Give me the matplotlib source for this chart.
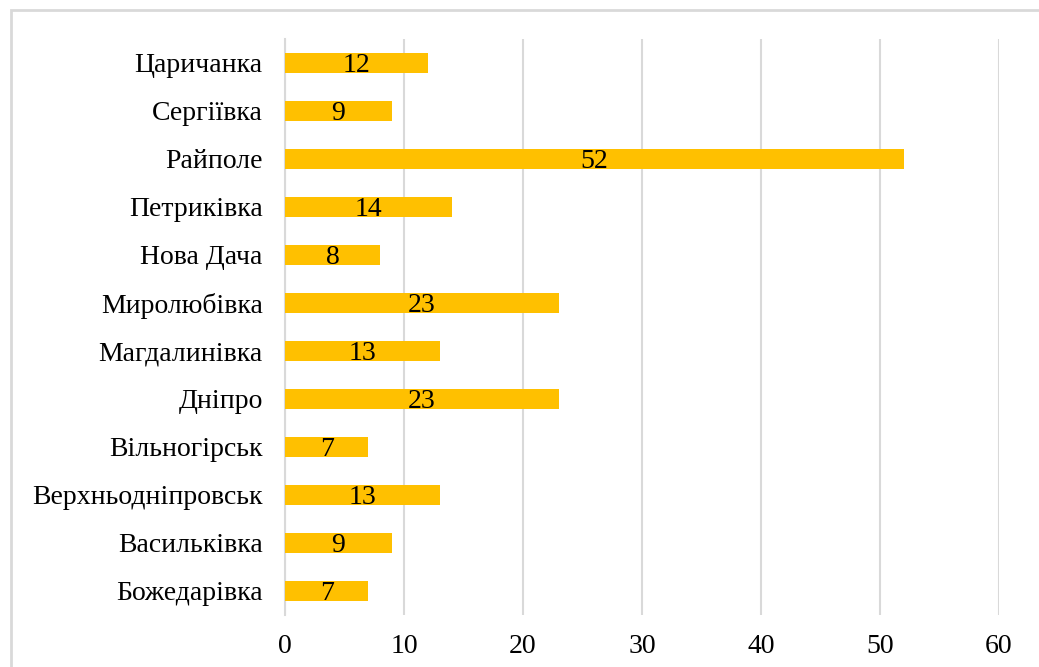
import matplotlib.pyplot as plt
from matplotlib.patches import Rectangle

# Data (bottom to top as drawn)
places = ['Божедарівка', 'Васильківка', 'Верхньодніпровськ', 'Вільногірськ',
          'Дніпро', 'Магдалинівка', 'Миролюбівка', 'Нова Дача',
          'Петриківка', 'Райполе', 'Сергіївка', 'Царичанка']
counts = [7, 9, 13, 7, 23, 13, 23, 8, 14, 52, 9, 12]
x_ticks = [0, 10, 20, 30, 40, 50, 60]

plt.rcParams['font.family'] = ['Liberation Serif', 'DejaVu Serif']

W, H = 1039, 667
fig = plt.figure(figsize=(W / 100, H / 100), dpi=100)
ax = fig.add_axes([285 / W, 1 - 615 / H, (999 - 285) / W, (615 - 39) / H])

grid_c = '#D9D9D9'
fs = 20
bars = ax.barh(range(len(places)), counts, height=0.4, color='#FFC000', zorder=3)
for b, v in zip(bars, counts):
    ax.text(b.get_width() / 2, b.get_y() + b.get_height() / 2 - 0.05, str(v),
            ha='center', va='center', fontsize=fs, color='black', zorder=4)

ax.set_xlim(0, 60)
ax.set_ylim(-0.5, len(places) - 0.5)
ax.set_xticks(x_ticks)
ax.set_yticks(range(len(places)))
ax.set_yticklabels(places)
ax.tick_params(axis='both', length=0, labelsize=fs, colors='black')
ax.tick_params(axis='x', pad=14)
ax.tick_params(axis='y', pad=16)
ax.grid(axis='x', color=grid_c, linewidth=1.5, zorder=0)
for s in ['top', 'right', 'bottom']:
    ax.spines[s].set_visible(False)
ax.spines['left'].set_color(grid_c)
ax.spines['left'].set_linewidth(1.5)

# chart border (extends past right/bottom edges)
fig.patches.append(Rectangle((11 / W, -0.05), 1.1, 1 - 10 / H + 0.05,
                             transform=fig.transFigure, fill=False,
                             edgecolor=grid_c, linewidth=2))

fig.savefig('out.png', dpi=100)
